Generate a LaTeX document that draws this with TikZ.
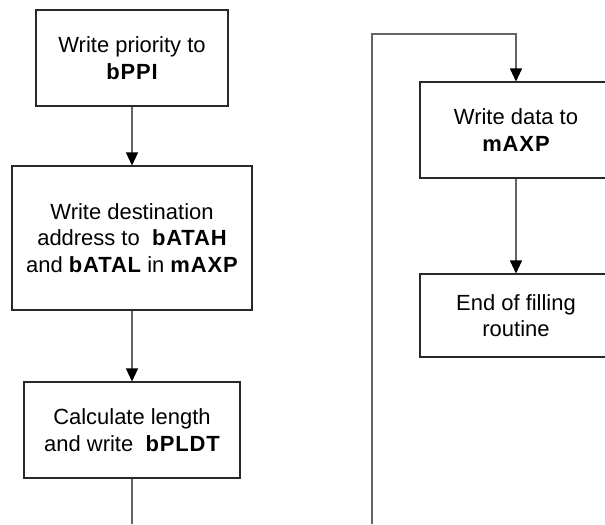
\documentclass[tikz,border=0pt]{standalone}
\usepackage{fontspec}
\setmainfont{Liberation Sans}
\usepackage{xcolor}
\usepackage{tikz}
\usetikzlibrary{arrows.meta,positioning}
\definecolor{flowline}{RGB}{100,100,100}
\definecolor{flowedge}{RGB}{40,40,40}
\newcommand{\regname}[1]{{\bfseries\addfontfeature{LetterSpace=4}#1}}

\begin{document}
\begin{tikzpicture}[x=0.02cm,y=-0.02cm,
  every node/.style={font=\fontsize{12.5}{15}\selectfont},
  procbox/.style={draw=flowedge, line width=0.6pt, align=center, inner sep=0pt},
  flow/.style={draw=flowline, line width=0.6pt,
    -{Triangle[length=0.26cm,width=0.24cm,color=black]}},
  flowend/.style={draw=flowline, line width=0.6pt}]
\useasboundingbox (0,0) rectangle (605,524);
\clip (0,0) rectangle (605,524);

% left column
\node[procbox, minimum width=3.84cm, minimum height=1.92cm] (prio) at (132,58)
  {Write priority to\\\regname{bPPI}};
\node[procbox, minimum width=4.8cm, minimum height=2.88cm] (dest) at (132,238)
  {Write destination\\address to\ \ \regname{bATAH}\\and \regname{bATAL} in \regname{mAXP}};
\node[procbox, minimum width=4.32cm, minimum height=1.92cm] (calc) at (132,430)
  {Calculate length\\and write\ \ \regname{bPLDT}};

% right column
\node[procbox, minimum width=3.84cm, minimum height=1.92cm] (data) at (516,130)
  {Write data to\\\regname{mAXP}};
\node[procbox, minimum width=3.84cm, minimum height=1.66cm] (fend) at (516,315.5)
  {End of filling\\routine};

\coordinate (calcout) at (132,524);
\coordinate (datain) at (372,524);
\coordinate (corner) at (372,34);

\draw[flow] (prio) -- (dest);
\draw[flow] (dest) -- (calc);
\draw[flowend] (calc) -- (calcout);
\draw[flow] (datain) -- (corner) -| (data);
\draw[flow] (data) -- (fend);
\end{tikzpicture}
\end{document}
